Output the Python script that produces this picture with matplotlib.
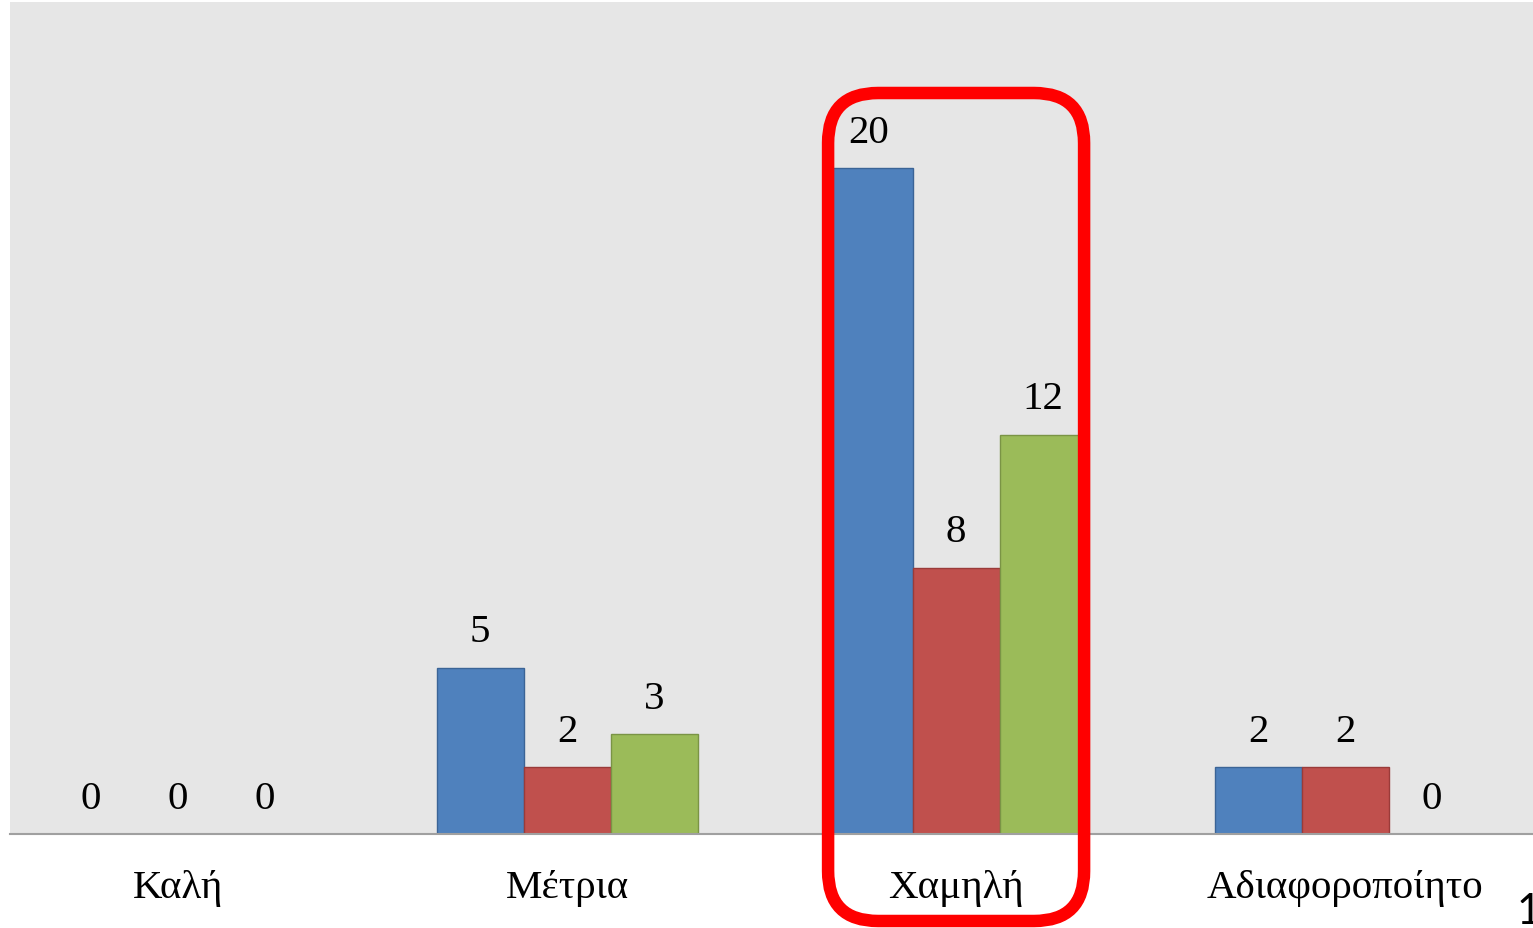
import matplotlib.pyplot as plt
import numpy as np
from matplotlib.patches import FancyBboxPatch
from matplotlib.transforms import IdentityTransform

categories = ['Καλή', 'Μέτρια', 'Χαμηλή', 'Αδιαφοροποίητο']
series_blue = [0, 5, 20, 2]
series_red = [0, 2, 8, 2]
series_green = [0, 3, 12, 0]

COLORS = ['#4F81BD', '#C0504D', '#9BBB59']
EDGES = ['#3B6496', '#9A3B39', '#7A9445']
SERIF = ['Liberation Serif', 'DejaVu Serif']

W, H, DPI = 1533, 929, 100
fig = plt.figure(figsize=(W / DPI, H / DPI), dpi=DPI)
ax = fig.add_axes([10 / W, (H - 835) / H, 1 - 10 / W, (835 - 3) / H])
ax.set_facecolor('#E6E6E6')

x = np.arange(len(categories))
width = 0.2237
for i, (vals, c, ec) in enumerate(zip([series_blue, series_red, series_green], COLORS, EDGES)):
    pos = x + (i - 1) * width
    ax.bar(pos, vals, width, color=c, edgecolor=ec, linewidth=1, zorder=3)
    for px, v in zip(pos, vals):
        ax.annotate(str(v), xy=(px, v), xytext=(0, 12.5), textcoords='offset points',
                    ha='center', va='bottom', fontsize=29.5, family=SERIF, color='black')

ax.set_xlim(-0.432, 3.483)
ax.set_ylim(0, 25)
ax.set_yticks([])
ax.set_xticks(x)
ax.set_xticklabels(categories, fontsize=29.5, family=SERIF)
ax.tick_params(axis='x', length=0, pad=25)
for s in ['top', 'right', 'left']:
    ax.spines[s].set_visible(False)
ax.spines['bottom'].set_color('#A0A0A0')
ax.spines['bottom'].set_linewidth(1.5)
ax.spines['bottom'].set_zorder(4)

# red highlight around the third group
fig.canvas.draw()
cx = ax.transData.transform((x[2], 0))[0]
box = FancyBboxPatch((cx - 128, 7), 256, 828, boxstyle='round,pad=0,rounding_size=50',
                     transform=IdentityTransform(), fill=False, edgecolor='#FF0000',
                     linewidth=9, zorder=10, clip_on=False)
fig.add_artist(box)

fig.text(1517 / W, (H - 893) / H, '1', ha='left', va='top', fontsize=30,
         family=['Lato', 'DejaVu Sans'], color='black')

fig.savefig('out.png', dpi=DPI)
